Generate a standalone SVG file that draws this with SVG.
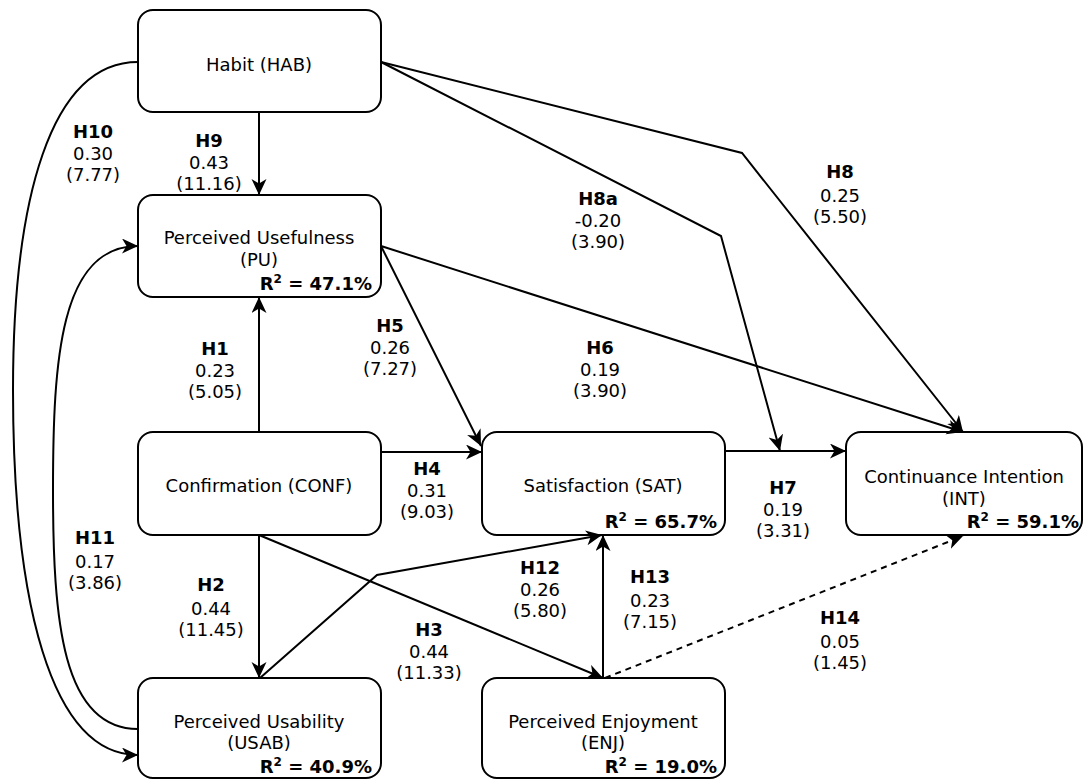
<svg xmlns="http://www.w3.org/2000/svg" width="1084" height="780" viewBox="0 0 1084 780">
<style>
.box{fill:#fff;stroke:#000;stroke-width:2}
.t{font-family:"DejaVu Sans","Verdana",sans-serif;font-size:18px;fill:#000;text-anchor:middle}
.b{font-weight:bold}
.r2{font-family:"DejaVu Sans","Verdana",sans-serif;font-size:18px;font-weight:bold;fill:#000;text-anchor:end}
.c{fill:none;stroke:#000;stroke-width:2;marker-end:url(#arr)}
.d{stroke-dasharray:6 5}
</style>
<defs>
<marker id="arr" markerUnits="userSpaceOnUse" markerWidth="18" markerHeight="16" refX="16" refY="7.5" orient="auto">
<path d="M0,0 L16,7.5 L0,15 L4.5,7.5 Z" fill="#000"/>
</marker>
</defs>
<rect width="1084" height="780" fill="#fff"/>
<g id="HAB"><rect class="box" x="138" y="10" width="243" height="102" rx="15"/><text class="t" x="259" y="71">Habit (HAB)</text></g>
<g id="PU"><rect class="box" x="138" y="195" width="243" height="102" rx="15"/><text class="t" x="259" y="244">Perceived Usefulness</text><text class="t" x="259" y="266">(PU)</text><text class="r2" x="372" y="290">R<tspan font-size="12" dy="-7">2</tspan><tspan dy="7"> = 47.1%</tspan></text></g>
<g id="CONF"><rect class="box" x="138" y="432" width="243" height="103" rx="15"/><text class="t" x="259" y="492">Confirmation (CONF)</text></g>
<g id="USAB"><rect class="box" x="138" y="678" width="243" height="100" rx="15"/><text class="t" x="259" y="728">Perceived Usability</text><text class="t" x="259" y="749">(USAB)</text><text class="r2" x="372" y="773">R<tspan font-size="12" dy="-7">2</tspan><tspan dy="7"> = 40.9%</tspan></text></g>
<g id="SAT"><rect class="box" x="482" y="432" width="243" height="103" rx="15"/><text class="t" x="603" y="492">Satisfaction (SAT)</text><text class="r2" x="717" y="528">R<tspan font-size="12" dy="-7">2</tspan><tspan dy="7"> = 65.7%</tspan></text></g>
<g id="INT"><rect class="box" x="846" y="432" width="236" height="103" rx="15"/><text class="t" x="964" y="483">Continuance Intention</text><text class="t" x="964" y="505">(INT)</text><text class="r2" x="1079" y="528">R<tspan font-size="12" dy="-7">2</tspan><tspan dy="7"> = 59.1%</tspan></text></g>
<g id="ENJ"><rect class="box" x="482" y="678" width="243" height="100" rx="15"/><text class="t" x="603" y="728">Perceived Enjoyment</text><text class="t" x="603" y="749">(ENJ)</text><text class="r2" x="717" y="773">R<tspan font-size="12" dy="-7">2</tspan><tspan dy="7"> = 19.0%</tspan></text></g>
<g id="connectors">
<path class="c" d="M259,112 L259,195"/>
<path class="c" d="M138,62 C50,62 13,200 13,390 C13,600 50,755 138,755"/>
<path class="c" d="M138,729 C62,729 53,620 53,490 C53,360 60,246 138,246"/>
<path class="c" d="M259,432 L259,297"/>
<path class="c" d="M259,535 L259,678"/>
<path class="c" d="M381,452 L482,452"/>
<path class="c" d="M381,246 L481,446"/>
<path class="c" d="M381,246 L963,432"/>
<path class="c" d="M381,62 L742,153 L963,432"/>
<path class="c" d="M381,62 L721,236 L780,451"/>
<path class="c" d="M725,451 L846,451"/>
<path class="c" d="M259,535 L603,678"/>
<path class="c" d="M260,678 L377,575 L602,535"/>
<path class="c" d="M603,678 L603,535"/>
<path class="c d" d="M605,678 L963,536"/>
</g>
<g id="labels">
<text class="t" x="93" y="138"><tspan class="b">H10</tspan><tspan x="93" dy="22">0.30</tspan><tspan x="93" dy="21">(7.77)</tspan></text>
<text class="t" x="209" y="147"><tspan class="b">H9</tspan><tspan x="209" dy="22">0.43</tspan><tspan x="209" dy="21">(11.16)</tspan></text>
<text class="t" x="598" y="205"><tspan class="b">H8a</tspan><tspan x="598" dy="22">-0.20</tspan><tspan x="598" dy="21">(3.90)</tspan></text>
<text class="t" x="840" y="178"><tspan class="b">H8</tspan><tspan x="840" dy="24">0.25</tspan><tspan x="840" dy="21">(5.50)</tspan></text>
<text class="t" x="390" y="332"><tspan class="b">H5</tspan><tspan x="390" dy="22">0.26</tspan><tspan x="390" dy="21">(7.27)</tspan></text>
<text class="t" x="600" y="354"><tspan class="b">H6</tspan><tspan x="600" dy="22">0.19</tspan><tspan x="600" dy="21">(3.90)</tspan></text>
<text class="t" x="215" y="355"><tspan class="b">H1</tspan><tspan x="215" dy="22">0.23</tspan><tspan x="215" dy="21">(5.05)</tspan></text>
<text class="t" x="427" y="475"><tspan class="b">H4</tspan><tspan x="427" dy="22">0.31</tspan><tspan x="427" dy="21">(9.03)</tspan></text>
<text class="t" x="783" y="494"><tspan class="b">H7</tspan><tspan x="783" dy="22">0.19</tspan><tspan x="783" dy="21">(3.31)</tspan></text>
<text class="t" x="95" y="544"><tspan class="b">H11</tspan><tspan x="95" dy="24">0.17</tspan><tspan x="95" dy="21">(3.86)</tspan></text>
<text class="t" x="211" y="591"><tspan class="b">H2</tspan><tspan x="211" dy="24">0.44</tspan><tspan x="211" dy="21">(11.45)</tspan></text>
<text class="t" x="429" y="636"><tspan class="b">H3</tspan><tspan x="429" dy="22">0.44</tspan><tspan x="429" dy="21">(11.33)</tspan></text>
<text class="t" x="540" y="574"><tspan class="b">H12</tspan><tspan x="540" dy="22">0.26</tspan><tspan x="540" dy="21">(5.80)</tspan></text>
<text class="t" x="650" y="583"><tspan class="b">H13</tspan><tspan x="650" dy="24">0.23</tspan><tspan x="650" dy="21">(7.15)</tspan></text>
<text class="t" x="840" y="624"><tspan class="b">H14</tspan><tspan x="840" dy="24">0.05</tspan><tspan x="840" dy="21">(1.45)</tspan></text>
</g>
</svg>
